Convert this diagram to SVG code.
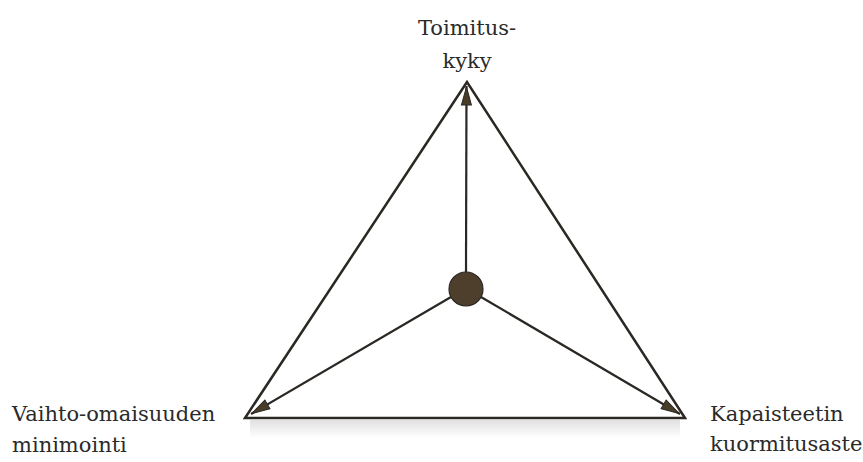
<svg xmlns="http://www.w3.org/2000/svg" width="863" height="462" viewBox="0 0 863 462">
<style>
.edge{stroke:#2b2824;stroke-width:2.5;fill:none;stroke-linejoin:miter}
.conn{stroke:#2b2824;stroke-width:2.2;fill:none}
</style>
<defs>
<marker id="ah" viewBox="0 0 20 12" refX="20" refY="6" markerWidth="20" markerHeight="12" markerUnits="userSpaceOnUse" orient="auto">
<path d="M1,1 L19,6 L1,11 z" fill="#4a3d28" stroke="#2b2824" stroke-width="1"/>
</marker>
<linearGradient id="sh" x1="0" y1="0" x2="0" y2="1">
<stop offset="0" stop-color="#000" stop-opacity="0.12"/>
<stop offset="1" stop-color="#000" stop-opacity="0"/>
</linearGradient>
</defs>
<rect width="863" height="462" fill="#ffffff"/>
<rect x="250" y="420" width="430" height="18" fill="url(#sh)"/>
<g id="triangle">
<polygon class="edge" points="467,82 245,418 685,418"/>
</g>
<g id="connectors">
<line class="conn" x1="466" y1="272" x2="466.5" y2="86" marker-end="url(#ah)"/>
<line class="conn" x1="451" y1="297" x2="251" y2="414" marker-end="url(#ah)"/>
<line class="conn" x1="481" y1="297" x2="680" y2="414" marker-end="url(#ah)"/>
</g>
<g id="center">
<circle cx="466" cy="289" r="17" fill="#4d3f2b" stroke="#2b2824" stroke-width="1.2"/>
</g>
<g font-family="DejaVu Serif, serif" font-size="21" fill="#2a2a2a">
<g id="top">
<text x="467" y="35" text-anchor="middle">Toimitus-</text>
<text x="467" y="68" text-anchor="middle">kyky</text>
</g>
<g id="left">
<text x="12" y="421">Vaihto-omaisuuden</text>
<text x="12" y="452">minimointi</text>
</g>
<g id="right">
<text x="710" y="421">Kapaisteetin</text>
<text x="710" y="451">kuormitusaste</text>
</g>
</g>
</svg>
